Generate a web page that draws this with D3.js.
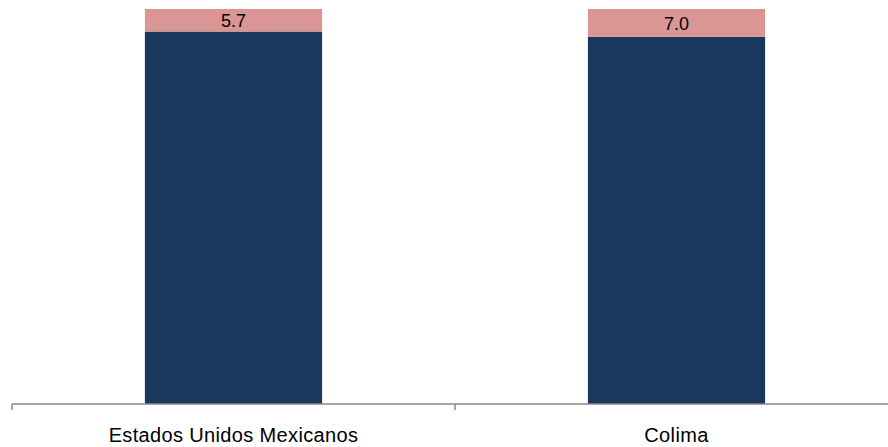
<!DOCTYPE html>
<html>
<head>
<meta charset="utf-8">
<script src="https://cdn.jsdelivr.net/npm/d3@7"></script>
<style>
  body { margin: 0; background: #fff; }
  text { font-family: "Liberation Sans", Arial, sans-serif; }
</style>
</head>
<body>
<script>
const categories = ["Estados Unidos Mexicanos", "Colima"];
const baseValues = [94.3, 93.0];
const topValues = [5.7, 7.0];
const topLabels = ["5.7", "7.0"];

const width = 888;
const height = 447;

const svg = d3.select("body").append("svg")
  .attr("width", width)
  .attr("height", height);

const x = d3.scaleBand()
  .domain(categories)
  .range([12, 898])
  .paddingInner(0.6)
  .paddingOuter(0.3);

const y = d3.scaleLinear()
  .domain([0, 100])
  .range([404, 9]);

const rows = categories.map((c, i) => ({ cat: c, base: baseValues[i], top: topValues[i], label: topLabels[i] }));

// blue part
svg.selectAll(".base")
  .data(rows)
  .enter()
  .append("rect")
  .attr("x", d => x(d.cat))
  .attr("width", x.bandwidth())
  .attr("y", d => y(d.base))
  .attr("height", d => y(0) - y(d.base))
  .attr("fill", "#1a375e");

// pink part
svg.selectAll(".top")
  .data(rows)
  .enter()
  .append("rect")
  .attr("x", d => x(d.cat))
  .attr("width", x.bandwidth())
  .attr("y", d => y(d.base + d.top))
  .attr("height", d => y(d.base) - y(d.base + d.top))
  .attr("fill", "#da9694");

svg.selectAll(".lbl")
  .data(rows)
  .enter()
  .append("text")
  .attr("x", d => x(d.cat) + x.bandwidth() / 2)
  .attr("y", d => (y(d.base) + y(d.base + d.top)) / 2 + 7)
  .attr("text-anchor", "middle")
  .attr("font-size", 18)
  .attr("fill", "#000")
  .text(d => d.label);

// axis
const ax = svg.append("g").attr("transform", "translate(0,404)");
ax.append("line")
  .attr("x1", 12).attr("x2", width)
  .attr("y1", 0).attr("y2", 0)
  .attr("stroke", "#898989")
  .attr("stroke-width", 1.5);

// ticks between categories
ax.selectAll(".tk")
  .data(categories.map((c, i) => i === 0 ? 12 : (x(categories[i - 1]) + x.bandwidth() + x(c)) / 2))
  .enter()
  .append("line")
  .attr("x1", d => d).attr("x2", d => d)
  .attr("y1", 0).attr("y2", 6)
  .attr("stroke", "#898989")
  .attr("stroke-width", 1.5);

ax.selectAll(".cat")
  .data(categories)
  .enter()
  .append("text")
  .attr("x", d => x(d) + x.bandwidth() / 2)
  .attr("y", 38)
  .attr("text-anchor", "middle")
  .attr("font-size", 20)
  .attr("letter-spacing", 0.35)
  .attr("fill", "#000")
  .text(d => d);
</script>
</body>
</html>
